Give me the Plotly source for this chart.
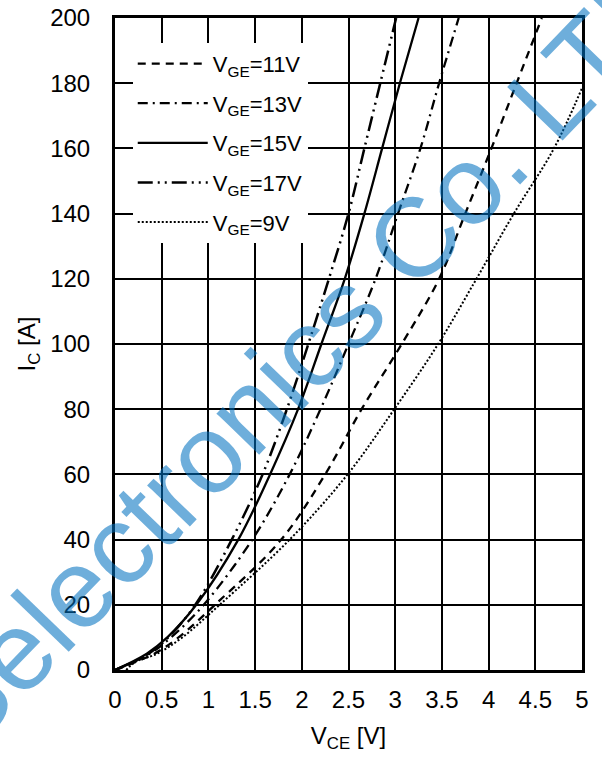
import plotly.graph_objects as go

# ---- data ----
I_main = [0, 5, 10, 20, 40, 60, 80, 100, 120, 140, 160, 180, 200]
V_17 = [0, 0.36, 0.57, 0.86, 1.25, 1.58, 1.84, 2.07, 2.29, 2.50, 2.67, 2.84, 3.01]
V_15 = [0, 0.34, 0.56, 0.87, 1.32, 1.66, 1.96, 2.21, 2.46, 2.67, 2.86, 3.05, 3.25]
V_13 = [0, 0.37, 0.60, 0.95, 1.47, 1.87, 2.20, 2.50, 2.79, 3.03, 3.27, 3.47, 3.68]
V_11 = [0, 0.42, 0.68, 1.07, 1.78, 2.25, 2.64, 3.07, 3.47, 3.75, 4.03, 4.30, 4.57]
I_9 = [0, 2.5, 5, 10, 20, 40, 60, 80, 100, 120, 140, 160, 178.5]
V_9 = [0.12, 0.22, 0.45, 0.72, 1.12, 1.87, 2.49, 2.99, 3.46, 3.87, 4.27, 4.70, 5.0]

x_ticks = [0, 0.5, 1, 1.5, 2, 2.5, 3, 3.5, 4, 4.5, 5]
x_tick_labels = ["0", "0.5", "1", "1.5", "2", "2.5", "3", "3.5", "4", "4.5", "5"]
y_ticks = [0, 20, 40, 60, 80, 100, 120, 140, 160, 180, 200]

series = [
    ("V<sub>GE</sub>=11V", V_11, I_main, "8px,6px", 2.3),
    ("V<sub>GE</sub>=13V", V_13, I_main, "10px,5px,2px,5px", 2.3),
    ("V<sub>GE</sub>=15V", V_15, I_main, "solid", 2.3),
    ("V<sub>GE</sub>=17V", V_17, I_main, "15px,5px,2px,5px,2px,5px", 2.5),
    ("V<sub>GE</sub>=9V", V_9, I_9, "2px,2px", 2.0),
]

FONT = "Liberation Sans, Arial, sans-serif"

fig = go.Figure()
for i, (name, vx, iy, dash, w) in enumerate(series):
    fig.add_trace(go.Scatter(
        x=vx, y=iy, name=name, mode="lines",
        line=dict(color="black", width=w, dash=dash, shape="spline", smoothing=1.0),
        legendgroup=f"g{i}",
    ))

fig.update_layout(
    width=602, height=758,
    margin=dict(l=115, r=20, t=18, b=88),
    paper_bgcolor="white", plot_bgcolor="white",
    font=dict(family=FONT, size=24, color="black"),
    showlegend=True,
    legend=dict(
        x=0.038, y=0.962, xanchor="left", yanchor="top",
        bgcolor="white", borderwidth=0,
        font=dict(family=FONT, size=22, color="black"),
        itemwidth=70, tracegroupgap=8, traceorder="grouped",
    ),
    xaxis=dict(
        range=[0, 5], tickvals=x_ticks, ticktext=x_tick_labels,
        showgrid=True, gridcolor="black", gridwidth=1.7,
        showline=True, linecolor="black", linewidth=3, mirror=True,
        ticks="", ticklabelstandoff=6, zeroline=False,
        title=dict(text="V<sub>CE</sub> [V]", standoff=16, font=dict(size=24)),
        automargin=False,
    ),
    yaxis=dict(
        range=[0, 200], tickvals=y_ticks,
        showgrid=True, gridcolor="black", gridwidth=1.7,
        showline=True, linecolor="black", linewidth=3, mirror=True,
        ticks="", ticklabelstandoff=17, zeroline=False,
        title=dict(text="I<sub>C</sub> [A]", standoff=8, font=dict(size=24)),
        automargin=False,
    ),
)

fig.add_annotation(
    text="Selectronics Co. LTD", xref="paper", yref="paper",
    x=0.407, y=0.489, xanchor="center", yanchor="middle",
    textangle=-46, showarrow=False,
    font=dict(family=FONT, size=112, color="rgba(0,112,192,0.57)"),
)

fig.write_html(
    "out.html",
    config={"displayModeBar": False},
    post_script="document.body.style.margin='0px';document.body.style.overflow='hidden';",
)
